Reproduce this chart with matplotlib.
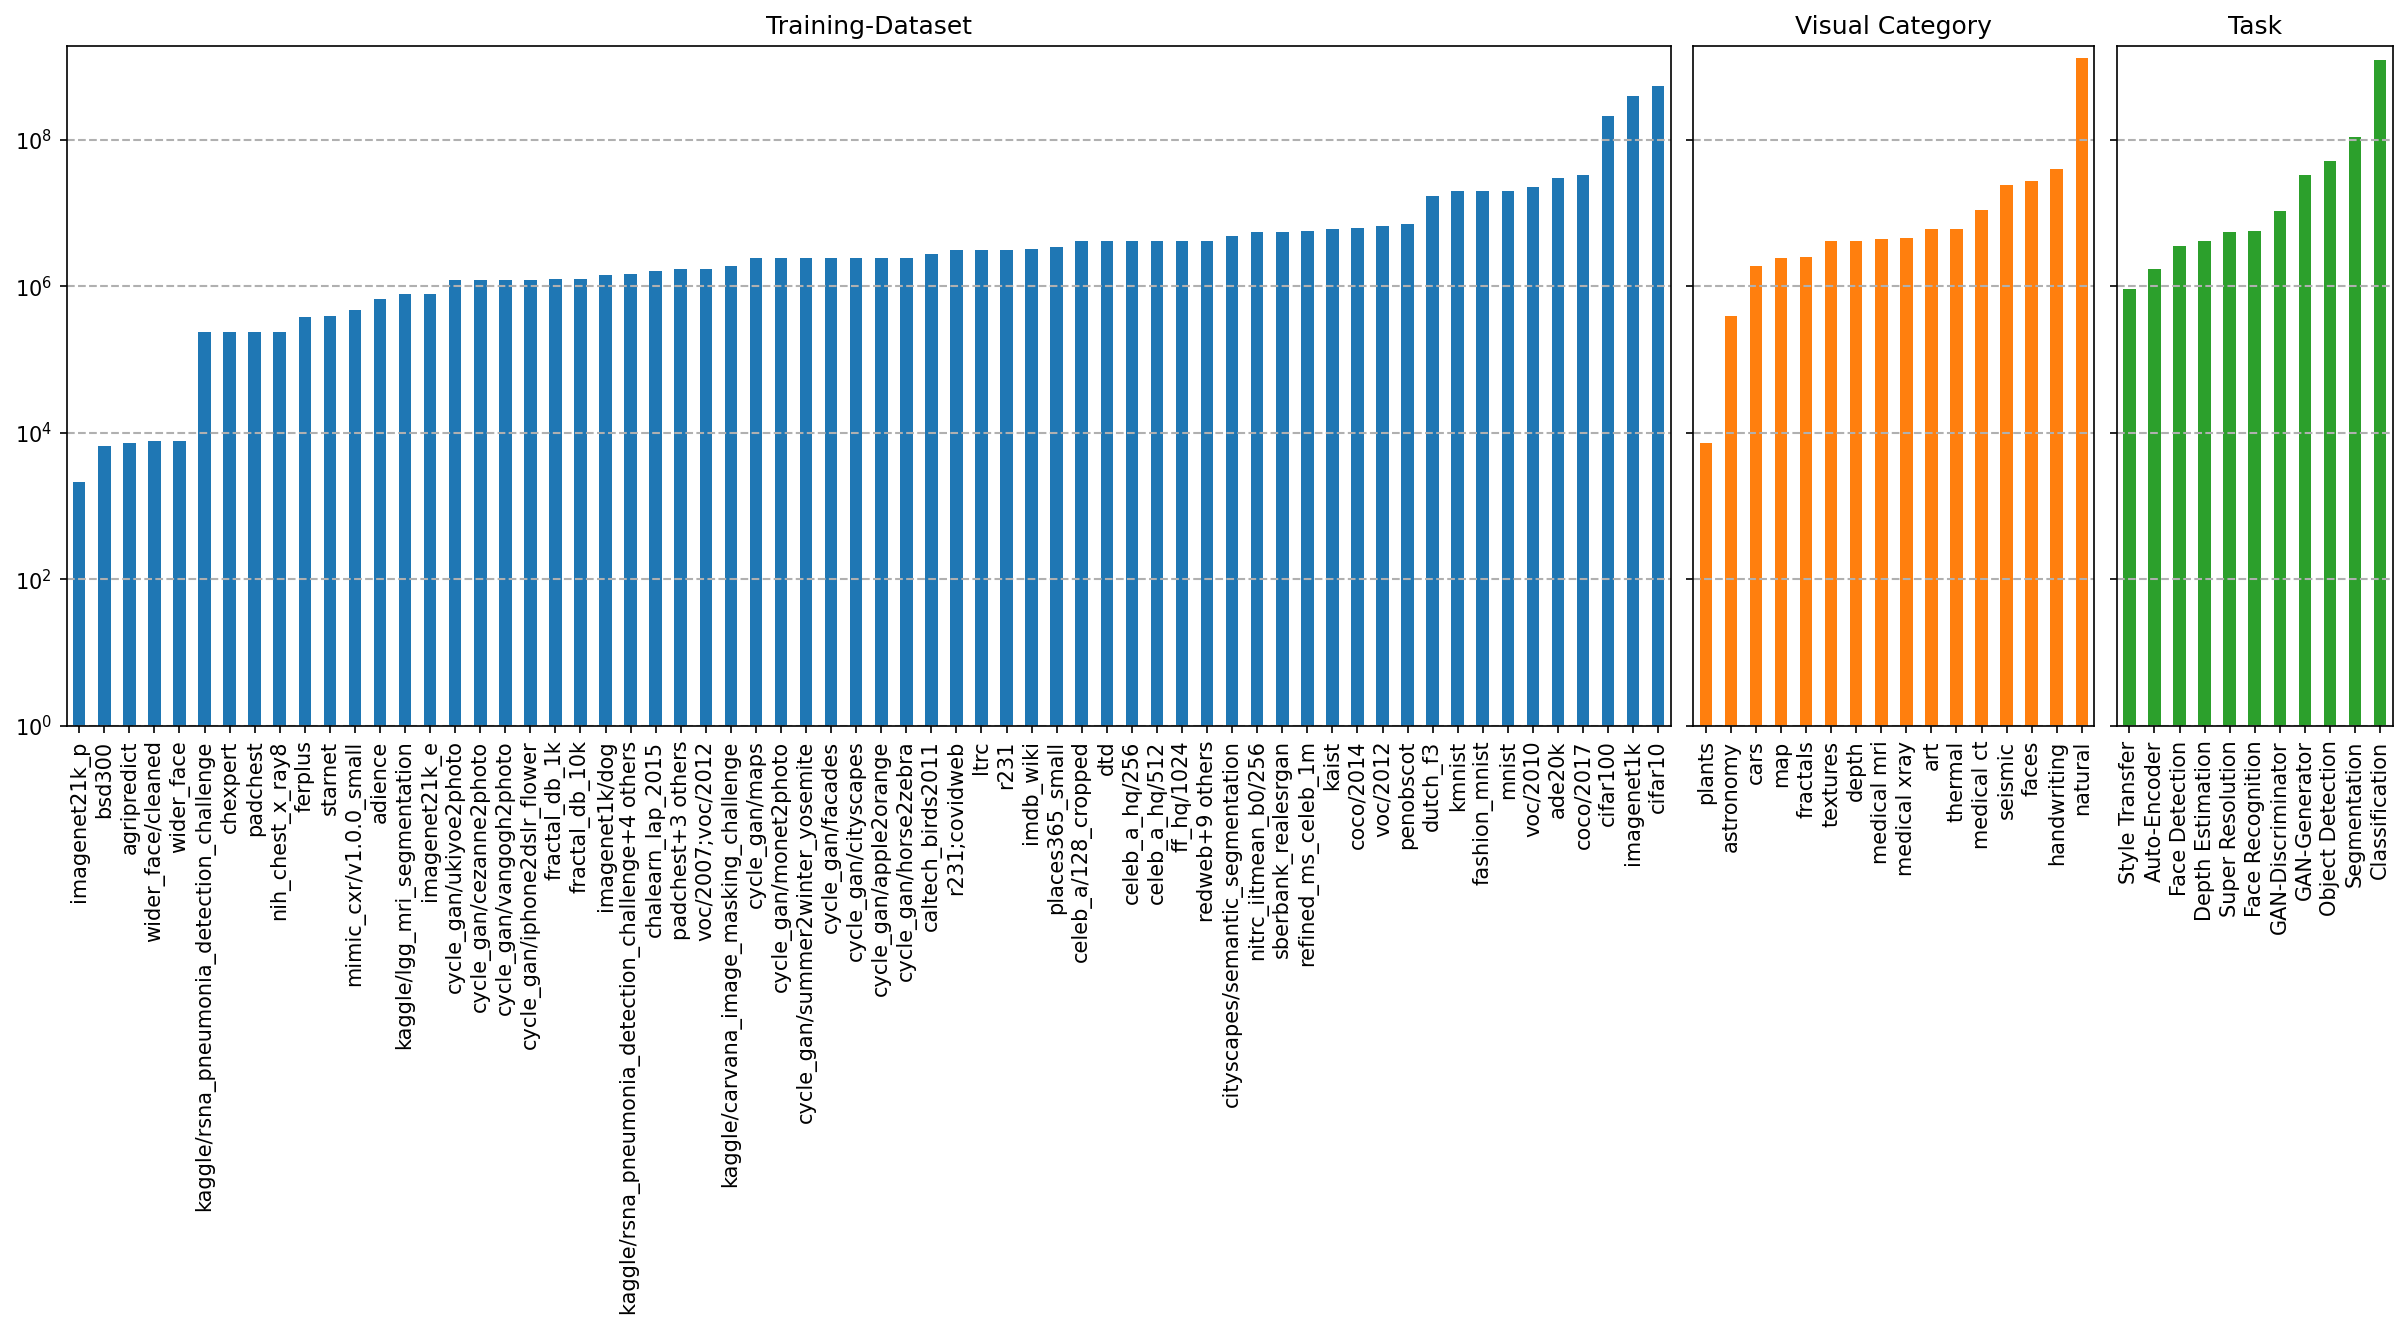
import matplotlib
matplotlib.use("Agg")
import matplotlib.pyplot as plt
from matplotlib.ticker import NullLocator

# training datasets
datasets = [
    "imagenet21k_p", "bsd300", "agripredict", "wider_face/cleaned", "wider_face",
    "kaggle/rsna_pneumonia_detection_challenge", "chexpert", "padchest",
    "nih_chest_x_ray8", "ferplus", "starnet", "mimic_cxr/v1.0.0_small", "adience",
    "kaggle/lgg_mri_segmentation", "imagenet21k_e", "cycle_gan/ukiyoe2photo",
    "cycle_gan/cezanne2photo", "cycle_gan/vangogh2photo", "cycle_gan/iphone2dslr_flower",
    "fractal_db_1k", "fractal_db_10k", "imagenet1k/dog",
    "kaggle/rsna_pneumonia_detection_challenge+4 others", "chalearn_lap_2015",
    "padchest+3 others", "voc/2007;voc/2012", "kaggle/carvana_image_masking_challenge",
    "cycle_gan/maps", "cycle_gan/monet2photo", "cycle_gan/summer2winter_yosemite",
    "cycle_gan/facades", "cycle_gan/cityscapes", "cycle_gan/apple2orange",
    "cycle_gan/horse2zebra", "caltech_birds2011", "r231;covidweb", "ltrc", "r231",
    "imdb_wiki", "places365_small", "celeb_a/128_cropped", "dtd", "celeb_a_hq/256",
    "celeb_a_hq/512", "ff_hq/1024", "redweb+9 others", "cityscapes/semantic_segmentation",
    "nitrc_iitmean_b0/256", "sberbank_realesrgan", "refined_ms_celeb_1m", "kaist",
    "coco/2014", "voc/2012", "penobscot", "dutch_f3", "kmnist", "fashion_mnist",
    "mnist", "voc/2010", "ade20k", "coco/2017", "cifar100", "imagenet1k", "cifar10",
]
dataset_values = [
    2150, 6590, 7370, 7790, 7790,
    2.38e5, 2.38e5, 2.38e5, 2.38e5, 3.84e5, 3.95e5, 4.80e5, 6.72e5,
    7.83e5, 7.83e5, 1.23e6, 1.23e6, 1.23e6, 1.23e6, 1.26e6, 1.26e6, 1.43e6,
    1.47e6, 1.62e6, 1.72e6, 1.72e6, 1.90e6,
    2.44e6, 2.44e6, 2.44e6, 2.44e6, 2.44e6, 2.44e6, 2.44e6,
    2.77e6, 3.14e6, 3.14e6, 3.14e6, 3.23e6, 3.46e6,
    4.15e6, 4.15e6, 4.15e6, 4.15e6, 4.15e6, 4.15e6, 4.84e6,
    5.50e6, 5.50e6, 5.73e6, 6.07e6, 6.24e6, 6.69e6, 7.07e6,
    1.71e7, 2.0e7, 2.0e7, 2.0e7, 2.26e7, 3.0e7, 3.31e7,
    2.1e8, 3.95e8, 5.37e8,
]

# visual categories
categories = [
    "plants", "astronomy", "cars", "map", "fractals", "textures", "depth",
    "medical mri", "medical xray", "art", "thermal", "medical ct", "seismic",
    "faces", "handwriting", "natural",
]
category_values = [
    7370, 3.95e5, 1.90e6, 2.44e6, 2.51e6, 4.15e6, 4.15e6, 4.46e6, 4.59e6,
    6.07e6, 6.07e6, 1.11e7, 2.43e7, 2.75e7, 3.96e7, 1.30e9,
]

# tasks
tasks = [
    "Style Transfer", "Auto-Encoder", "Face Detection", "Depth Estimation",
    "Super Resolution", "Face Recognition", "GAN-Discriminator", "GAN-Generator",
    "Object Detection", "Segmentation", "Classification",
]
task_values = [
    9.27e5, 1.72e6, 3.56e6, 4.15e6, 5.50e6, 5.73e6, 1.06e7, 3.31e7, 5.1e7,
    1.09e8, 1.23e9,
]

panels = [
    ("Training-Dataset", datasets, dataset_values, "C0"),
    ("Visual Category", categories, category_values, "C1"),
    ("Task", tasks, task_values, "C2"),
]

fig, axes = plt.subplots(
    1, 3, figsize=(2408 / 150, 1330 / 150), dpi=150, sharey=True,
    gridspec_kw=dict(width_ratios=[len(datasets), len(categories), len(tasks)],
                     left=0.0277, right=0.9936, top=0.9654, bottom=0.4542,
                     wspace=0.0297),
)

for ax, (title, names, vals, color) in zip(axes, panels):
    x = range(len(names))
    ax.bar(x, vals, width=0.5, color=color)
    ax.set_yscale("log")
    ax.set_xticks(list(x))
    ax.set_xticklabels(names, rotation=90)
    ax.set_xlim(-0.5, len(names) - 0.5)
    ax.set_title(title)
    ax.yaxis.grid(True, linestyle="--", linewidth=1.0)

axes[0].set_ylim(1, 1.9e9)
axes[0].set_yticks([1, 1e2, 1e4, 1e6, 1e8])
axes[0].yaxis.set_minor_locator(NullLocator())

fig.savefig("out.png", dpi=150)
